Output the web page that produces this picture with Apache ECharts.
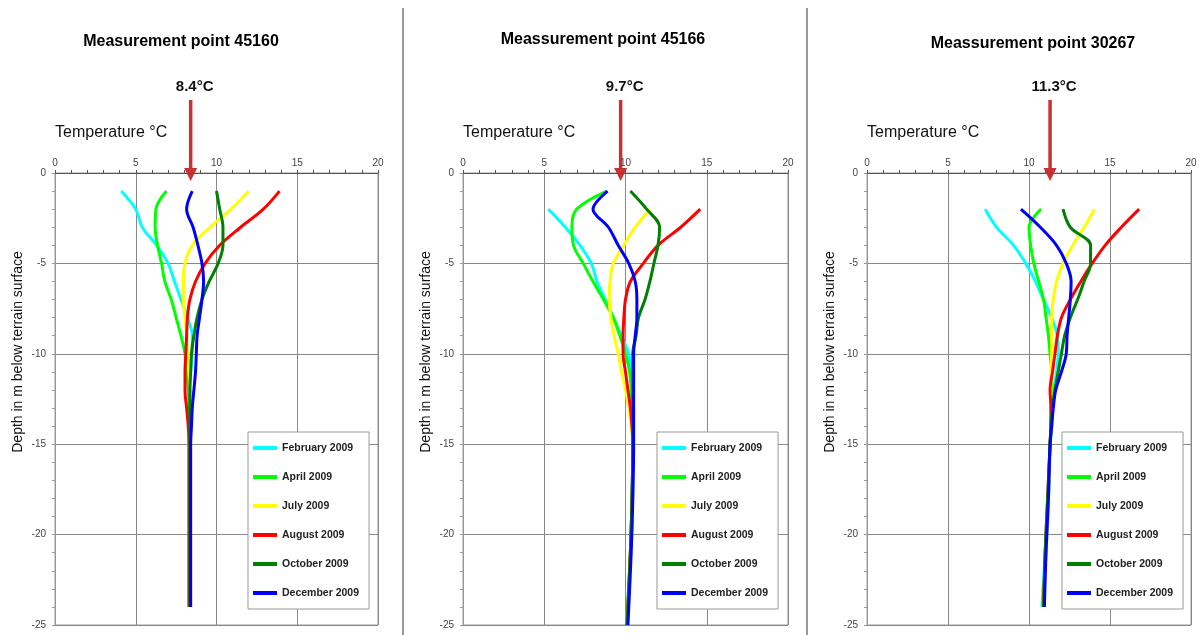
<!DOCTYPE html>
<html>
<head>
<meta charset="utf-8">
<title>Ground temperature profiles 2009</title>
<script src="https://cdn.jsdelivr.net/npm/echarts@6/dist/echarts.min.js"></script>
<style>
  html, body { margin: 0; background: #fff; }
  #chart { width: 1203px; height: 635px; }
</style>
</head>
<body>
<div id="chart"></div>
<script>
// ---- data ----
var months = ['February 2009', 'April 2009', 'July 2009', 'August 2009', 'October 2009', 'December 2009'];
var colors = ['#00ffff', '#00ff00', '#ffff00', '#ff0000', '#008000', '#0000ff'];
var points = ['Measurement point 45160', 'Meassurement point 45166', 'Meassurement point 30267'];
var meanTemps = [8.4, 9.7, 11.3];

// point 45160 (depth in m, temperatures in °C)
var depth45160 = [-1, -2, -3, -4, -5, -6, -7, -8, -9, -10, -11, -12, -13, -14, -15, -18, -21, -24];
var feb45160 = [4.1, 5.0, 5.4, 6.3, 7.0, 7.4, 7.8, 8.2, 8.5, 8.5, 8.4, 8.35, 8.35, 8.35, 8.35, 8.35, 8.35, 8.35];
var apr45160 = [6.9, 6.25, 6.2, 6.35, 6.6, 6.8, 7.2, 7.5, 7.8, 8.05, 8.15, 8.25, 8.3, 8.3, 8.3, 8.3, 8.3, 8.3];
var jul45160 = [12.0, 10.9, 9.6, 8.5, 8.05, 7.95, 7.95, 8.05, 8.15, 8.2, 8.3, 8.35, 8.4, 8.4, 8.4, 8.4, 8.4, 8.4];
var aug45160 = [13.9, 12.9, 11.5, 10.2, 9.3, 8.7, 8.35, 8.2, 8.15, 8.1, 8.05, 8.05, 8.15, 8.25, 8.3, 8.3, 8.3, 8.3];
var oct45160 = [10.0, 10.2, 10.4, 10.4, 10.1, 9.55, 9.1, 8.8, 8.6, 8.45, 8.4, 8.35, 8.35, 8.35, 8.35, 8.35, 8.35, 8.35];
var dec45160 = [8.5, 8.15, 8.55, 8.85, 9.1, 9.2, 9.1, 8.95, 8.8, 8.75, 8.7, 8.6, 8.5, 8.45, 8.4, 8.4, 8.4, 8.4];

// point 45166
var depth45166 = [-1, -2, -3, -4, -5, -6, -7, -8, -9, -10, -11, -12, -13, -14, -15, -18, -21, -25];
var feb45166 = [null, 5.25, 6.3, 7.2, 7.9, 8.25, 8.75, 9.25, 9.75, 10.2, 10.35, 10.4, 10.45, 10.45, 10.45, 10.4, 10.3, 10.1];
var apr45166 = [8.85, 7.0, 6.7, 6.8, 7.4, 8.0, 8.65, 9.25, 9.65, 10.0, 10.25, 10.35, 10.4, 10.45, 10.45, 10.4, 10.3, 10.05];
var jul45166 = [null, 11.5, 10.6, 9.9, 9.25, 9.05, 9.0, 9.1, 9.3, 9.55, 9.75, 10.0, 10.2, 10.35, 10.45, 10.45, 10.3, 10.1];
var aug45166 = [null, 14.6, 13.4, 12.0, 11.1, 10.3, 10.0, 9.9, 9.85, 9.85, 10.0, 10.15, 10.3, 10.4, 10.45, 10.4, 10.3, 10.1];
var oct45166 = [10.3, 11.3, 12.1, 12.0, 11.75, 11.5, 11.2, 10.8, 10.65, 10.45, 10.45, 10.45, 10.45, 10.45, 10.45, 10.4, 10.3, 10.1];
var dec45166 = [8.9, 8.0, 8.95, 9.55, 10.2, 10.6, 10.7, 10.7, 10.6, 10.5, 10.5, 10.5, 10.5, 10.5, 10.5, 10.45, 10.35, 10.15];

// point 30267
var depth30267 = [-2, -3, -4, -5, -6, -7, -8, -9, -10, -11, -12, -13, -14, -15, -18, -21, -24];
var feb30267 = [7.3, 8.0, 9.05, 9.8, 10.4, 10.9, 11.4, 11.75, 11.8, 11.7, 11.55, 11.45, 11.4, 11.3, 11.2, 11.0, 10.8];
var apr30267 = [10.75, 10.0, 10.1, 10.3, 10.6, 10.9, 11.05, 11.2, 11.3, 11.4, 11.4, 11.4, 11.4, 11.3, 11.2, 11.05, 10.85];
var jul30267 = [14.05, 13.4, 12.7, 12.1, 11.7, 11.5, 11.4, 11.4, 11.4, 11.35, 11.35, 11.35, 11.35, 11.3, 11.2, 11.05, 10.9];
var aug30267 = [16.8, 15.7, 14.7, 13.9, 13.2, 12.55, 12.0, 11.75, 11.6, 11.45, 11.3, 11.35, 11.35, 11.3, 11.15, 11.0, 10.9];
var oct30267 = [12.1, 12.55, 13.8, 13.8, 13.4, 13.0, 12.55, 12.2, 12.0, 11.8, 11.6, 11.45, 11.35, 11.3, 11.15, 11.0, 10.9];
var dec30267 = [9.5, 10.7, 11.7, 12.3, 12.6, 12.55, 12.45, 12.35, 12.3, 12.0, 11.65, 11.5, 11.4, 11.3, 11.2, 11.05, 10.95];

var depths = [depth45160, depth45166, depth30267];
var temps = [
  [feb45160, apr45160, jul45160, aug45160, oct45160, dec45160],
  [feb45166, apr45166, jul45166, aug45166, oct45166, dec45166],
  [feb30267, apr30267, jul30267, aug30267, oct30267, dec30267]
];

// ---- layout ----
var FONT = 'Liberation Sans, Arial, sans-serif';
var grids = [
  { left: 55, top: 173, width: 323, height: 452 },
  { left: 463, top: 173, width: 325, height: 452 },
  { left: 867, top: 173, width: 324, height: 452 }
];
var legendLeft = [248, 657, 1062];
var titleX = [181, 603, 1033];
var titleY = [42, 40, 44];

var chart = echarts.init(document.getElementById('chart'));

var xAxes = [], yAxes = [], series = [], legends = [];
grids.forEach(function (g, p) {
  g.show = true;
  g.borderColor = '#999';
  g.borderWidth = 1;
  xAxes.push({
    type: 'value', gridIndex: p, position: 'top', min: 0, max: 20, interval: 5,
    axisLine: { show: true, onZero: false, lineStyle: { color: '#555', width: 1 } },
    axisTick: { show: true, length: 3, lineStyle: { color: '#555' } },
    minorTick: { show: true, splitNumber: 5, length: 3, lineStyle: { color: '#555' } },
    axisLabel: { fontSize: 10, color: '#444', margin: 5, fontFamily: FONT },
    splitLine: { show: true, lineStyle: { color: '#888', width: 1 } }
  });
  yAxes.push({
    type: 'value', gridIndex: p, min: -25, max: 0, interval: 5,
    axisLine: { show: true, onZero: false, lineStyle: { color: '#999', width: 1 } },
    axisTick: { show: true, length: 3, lineStyle: { color: '#999' } },
    minorTick: { show: true, splitNumber: 5, length: 3, lineStyle: { color: '#999' } },
    axisLabel: { fontSize: 10, color: '#444', margin: 9, fontFamily: FONT },
    splitLine: { show: true, lineStyle: { color: '#888', width: 1 } }
  });
  months.forEach(function (m, k) {
    var data = [];
    depths[p].forEach(function (d, i) {
      var t = temps[p][k][i];
      if (t != null) data.push([t, d]);
    });
    series.push({
      type: 'line', name: m, xAxisIndex: p, yAxisIndex: p,
      data: data, smooth: 0.35, symbol: 'none',
      lineStyle: { color: colors[k], width: 3 },
      itemStyle: { color: colors[k] }
    });
  });
  legends.push({
    data: months, orient: 'vertical', left: legendLeft[p], top: 432,
    icon: 'rect', itemWidth: 24, itemHeight: 4, itemGap: 17,
    padding: [10, 10, 10, 5],
    backgroundColor: '#fff', borderColor: '#999', borderWidth: 1,
    textStyle: { fontSize: 10.5, fontWeight: 'bold', color: '#222', fontFamily: FONT, lineHeight: 12 },
    selectedMode: false
  });
});

chart.setOption({
  animation: false,
  backgroundColor: '#fff',
  grid: grids,
  xAxis: xAxes,
  yAxis: yAxes,
  legend: legends,
  series: series
});

// annotations placed through the axes
var gfx = [
  { type: 'line', shape: { x1: 403, y1: 8, x2: 403, y2: 635 }, style: { stroke: '#999', lineWidth: 2 } },
  { type: 'line', shape: { x1: 807, y1: 8, x2: 807, y2: 635 }, style: { stroke: '#999', lineWidth: 2 } }
];
var red = '#c83232';
meanTemps.forEach(function (t, p) {
  var x = chart.convertToPixel({ xAxisIndex: p }, t);
  var x0 = chart.convertToPixel({ xAxisIndex: p }, 0);
  var top = chart.convertToPixel({ yAxisIndex: p }, 0);
  gfx.push(
    { type: 'text', x: titleX[p], y: titleY[p],
      style: { text: points[p], font: 'bold 16px ' + FONT, fill: '#000', align: 'center', verticalAlign: 'middle' } },
    { type: 'text', x: x + 4, y: top - 86,
      style: { text: t.toFixed(1) + '°C', font: 'bold 15px ' + FONT, fill: '#111', align: 'center', verticalAlign: 'middle' } },
    { type: 'line', shape: { x1: x, y1: top - 73, x2: x, y2: top - 2 }, style: { stroke: red, lineWidth: 3.5 } },
    { type: 'polygon', shape: { points: [[x - 6.5, top - 5], [x + 6.5, top - 5], [x, top + 8]] }, style: { fill: red } },
    { type: 'text', x: x0, y: top - 40,
      style: { text: 'Temperature °C', font: '16px ' + FONT, fill: '#111', align: 'left', verticalAlign: 'middle' } },
    { type: 'text', x: x0 - 37, y: 352, rotation: Math.PI / 2,
      style: { text: 'Depth in m below terrain surface', font: '14px ' + FONT, fill: '#111', align: 'center', verticalAlign: 'middle' } }
  );
});
chart.setOption({ graphic: gfx });
</script>
</body>
</html>
